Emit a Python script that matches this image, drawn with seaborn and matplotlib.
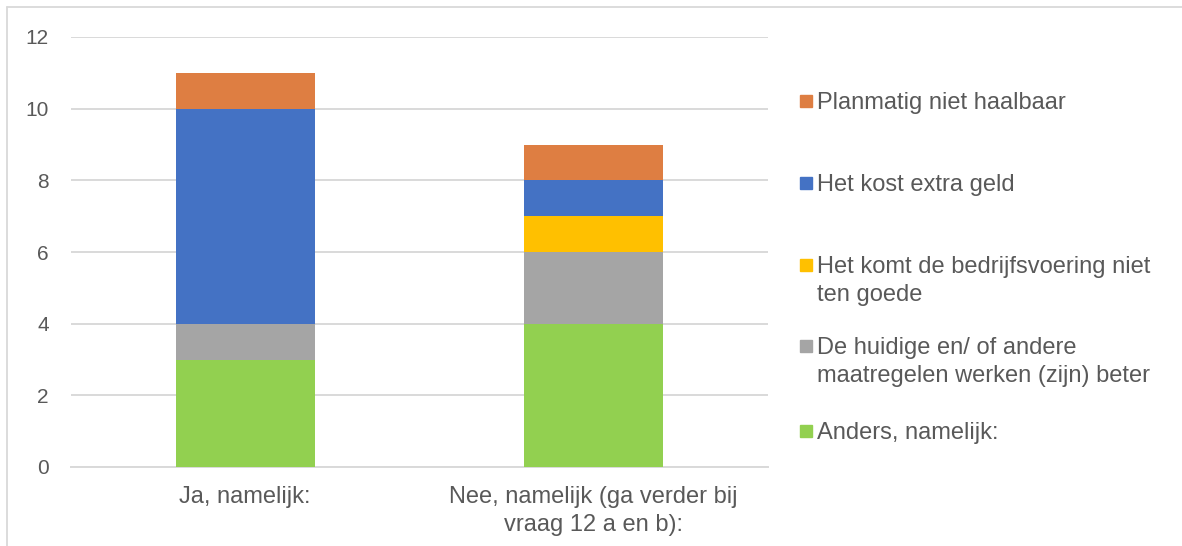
import numpy as np
import pandas as pd
import matplotlib
matplotlib.use("Agg")
import matplotlib.pyplot as plt
import seaborn as sns
from matplotlib.patches import Rectangle
from matplotlib.lines import Line2D

# Data
categories = ["Ja, namelijk:", "Nee, namelijk (ga verder bij\nvraag 12 a en b):"]
series = [
    "Anders, namelijk:",
    "De huidige en/ of andere\nmaatregelen werken (zijn) beter",
    "Het komt de bedrijfsvoering niet\nten goede",
    "Het kost extra geld",
    "Planmatig niet haalbaar",
]
anders = [3, 4]
huidige = [1, 2]
bedrijfsvoering = [0, 1]
kost = [6, 1]
planmatig = [1, 1]
values = [anders, huidige, bedrijfsvoering, kost, planmatig]
colors = ["#92D050", "#A5A5A5", "#FFC000", "#4472C4", "#DE7E42"]

sns.set_style("white")
plt.rcParams["font.family"] = ["Liberation Sans", "DejaVu Sans"]

fig = plt.figure(figsize=(11.82, 5.46), dpi=100)
ax = fig.add_axes([71 / 1182, 1 - 467 / 546, (768 - 71) / 1182, (467 - 37) / 546])

# Stacked bars
bottom = np.zeros(len(categories))
for name, vals, col in zip(series, values, colors):
    df = pd.DataFrame({"cat": categories, "val": vals})
    sns.barplot(data=df, x="cat", y="val", color=col, width=0.4, bottom=bottom,
                errorbar=None, saturation=1, linewidth=0, ax=ax, zorder=3)
    bottom = bottom + np.array(vals)

ax.set_ylim(0, 12)
ax.set_xlim(-0.5, 1.5)
ax.set_yticks(range(0, 13, 2))
ax.yaxis.grid(True, color="#D9D9D9", linewidth=1.4, zorder=0)
ax.set_axisbelow(True)
for s in ["top", "right", "left"]:
    ax.spines[s].set_visible(False)
ax.spines["bottom"].set_color("#D9D9D9")
ax.spines["bottom"].set_linewidth(1.4)
ax.set_xlabel("")
ax.set_ylabel("")
ax.tick_params(axis="y", length=0, pad=16, labelsize=15, labelcolor="#595959")
ax.tick_params(axis="x", length=0, pad=14, labelsize=17, labelcolor="#595959")
for lbl in ax.get_xticklabels():
    lbl.set_linespacing(1.35)

# Legend drawn manually so markers align with first text line
leg_y = [101, 183, 265, 346, 431]
order = [4, 3, 2, 1, 0]
for yy, i in zip(leg_y, order):
    fy = 1 - yy / 546
    fig.patches.append(Rectangle((800 / 1182, fy - 6 / 546), 12 / 1182, 12 / 546,
                                 transform=fig.transFigure, color=colors[i]))
    fig.text(817 / 1182, fy + 9 / 546, series[i], fontsize=17, color="#595959",
             va="top", ha="left", linespacing=1.38)

# Chart border
fig.add_artist(Line2D([7 / 1182, 7 / 1182], [0, 1 - 7 / 546], color="#D9D9D9",
                      linewidth=1.3, transform=fig.transFigure))
fig.add_artist(Line2D([7 / 1182, 1], [1 - 7 / 546, 1 - 7 / 546], color="#D9D9D9",
                      linewidth=1.3, transform=fig.transFigure))

fig.savefig("out.png", dpi=100)
